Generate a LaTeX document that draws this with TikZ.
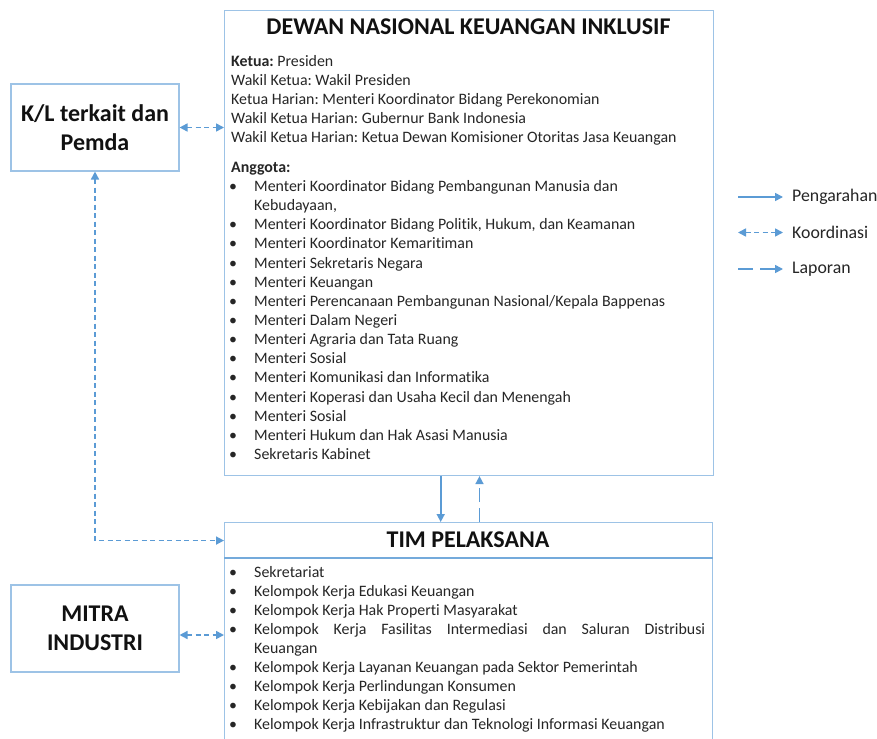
\documentclass[tikz,border=0pt]{standalone}
\usepackage{fontspec}
\setmainfont{Carlito}[Ligatures=NoCommon]
\usetikzlibrary{arrows.meta,calc}
\definecolor{boxblue}{HTML}{9DC3E6}
\definecolor{arrblue}{HTML}{5B9BD5}
\definecolor{txtgray}{HTML}{262626}
\definecolor{titleblack}{HTML}{111111}
\frenchspacing
\begin{document}
\begin{tikzpicture}[x=1pt,y=-1pt,
  box/.style={draw=boxblue, line width=1.1pt, rectangle, inner sep=0pt, anchor=north west},
  body/.style={anchor=base west, inner sep=0pt, text=txtgray, font=\fontsize{15.9}{19}\selectfont},
  bigtitle/.style={inner sep=0pt, text=titleblack, font=\bfseries\fontsize{24}{28}\selectfont},
  sidebox/.style={box, anchor=center, minimum width=168pt, minimum height=87pt, align=center, text=titleblack, font=\bfseries\fontsize{24}{29}\selectfont},
  legtext/.style={anchor=west, inner sep=0pt, text=txtgray, font=\fontsize{17.8}{21}\selectfont},
  tip/.tip={Triangle[length=8pt,width=8pt]},
  peng/.style={draw=arrblue, line width=1.6pt, -tip},
  koord/.style={draw=arrblue, line width=1.6pt, dash pattern=on 5pt off 3.5pt, tip-tip},
  lap/.style={draw=arrblue, line width=1.6pt, dash pattern=on 14pt off 6pt, -tip}]
\useasboundingbox (0,0) rectangle (877,738);
\clip (0,0) rectangle (877,738);
\fill[white] (0,0) rectangle (877,738);

% ---- DNKI box ----
\node[box, minimum width=489pt, minimum height=465pt] (dnki) at (224,10) {};
\node[bigtitle] (dtitle) at (468.5,27) {DEWAN NASIONAL KEUANGAN INKLUSIF};
\node[body] (d1) at (231,66.5) {\textbf{Ketua:} Presiden};
\node[body] (d2) at (231,85.5) {Wakil Ketua: Wakil Presiden};
\node[body] (d3) at (231,104.5) {Ketua Harian: Menteri Koordinator Bidang Perekonomian};
\node[body] (d4) at (231,123.5) {Wakil Ketua Harian: Gubernur Bank Indonesia};
\node[body] (d5) at (231,142.5) {Wakil Ketua Harian: Ketua Dewan Komisioner Otoritas Jasa Keuangan};
\node[body] (dang) at (231,172.5) {\textbf{Anggota:}};
\foreach \t [count=\i from 0] in {
  {Menteri Koordinator Bidang Pembangunan Manusia dan},
  {Kebudayaan,},
  {Menteri Koordinator Bidang Politik, Hukum, dan Keamanan},
  {Menteri Koordinator Kemaritiman},
  {Menteri Sekretaris Negara},
  {Menteri Keuangan},
  {Menteri Perencanaan Pembangunan Nasional/Kepala Bappenas},
  {Menteri Dalam Negeri},
  {Menteri Agraria dan Tata Ruang},
  {Menteri Sosial},
  {Menteri Komunikasi dan Informatika},
  {Menteri Koperasi dan Usaha Kecil dan Menengah},
  {Menteri Sosial},
  {Menteri Hukum dan Hak Asasi Manusia},
  {Sekretaris Kabinet}}
  \node[body] (m\i) at (254,{191.5+19.14*\i}) {\t};
\foreach \i in {0,2,3,4,5,6,7,8,9,10,11,12,13,14}
  \node[body] (mb\i) at (229,{191.5+19.14*\i}) {•};

% ---- TIM PELAKSANA ----
\node[box, minimum width=488pt, minimum height=36pt] (timhead) at (224,522) {};
\node[bigtitle] (ttitle) at (468,540) {TIM PELAKSANA};
\node[box, minimum width=488pt, minimum height=200pt] (timbody) at (224,558) {};
\draw[draw=arrblue!85, line width=1.5pt] (timbody.north west) -- (timbody.north east);
\foreach \t/\i in {
  {Sekretariat}/0,
  {Kelompok Kerja Edukasi Keuangan}/1,
  {Kelompok Kerja Hak Properti Masyarakat}/2,
  {Keuangan}/4,
  {Kelompok Kerja Layanan Keuangan pada Sektor Pemerintah}/5,
  {Kelompok Kerja Perlindungan Konsumen}/6,
  {Kelompok Kerja Kebijakan dan Regulasi}/7,
  {Kelompok Kerja Infrastruktur dan Teknologi Informasi Keuangan}/8}
  \node[body] (k\i) at (254,{577.2+19*\i}) {\t};
\node[body] (k3) at (254,{577.2+19*3}) {\makebox[451pt][s]{Kelompok Kerja Fasilitas Intermediasi dan Saluran Distribusi}};
\foreach \i in {0,1,2,3,5,6,7,8}
  \node[body] (kb\i) at (229,{577.2+19*\i}) {•};

% ---- side boxes ----
\node[sidebox] (kl) at (95,127.5) {K/L terkait dan\\Pemda};
\node[sidebox] (mitra) at (95,628.5) {MITRA\\INDUSTRI};

% ---- connectors ----
\draw[koord] (kl.east) -- (kl.east -| dnki.west);
\draw[koord] (kl.south) |- (timhead.west);
\draw[koord] ([yshift=-6.5pt]mitra.east) -- ([yshift=-6.5pt]mitra.east -| timbody.west);
\coordinate (xa) at (440.7,0);
\coordinate (xb) at (479.5,0);
\draw[peng] (dnki.south -| xa) -- (timhead.north -| xa);
\draw[lap] (timhead.north -| xb) -- (dnki.south -| xb);

% ---- legend ----
\coordinate (g1) at (738,197);
\coordinate (g2) at (738,232.5);
\coordinate (g3) at (738,269);
\node[legtext] (t1) at (792,197) {Pengarahan};
\node[legtext] (t2) at (792,232.5) {Koordinasi};
\node[legtext] (t3) at (792,269) {Laporan};
\draw[peng] (g1) -- ([xshift=-9pt]t1.west);
\draw[koord] (g2) -- ([xshift=-9pt]t2.west);
\draw[lap, dash pattern=on 15pt off 7pt] (g3) -- ([xshift=-9pt]t3.west);
\end{tikzpicture}
\end{document}
